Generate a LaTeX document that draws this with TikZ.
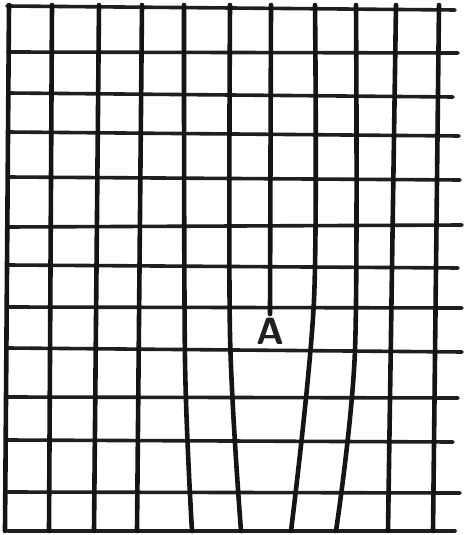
\documentclass[tikz,border=0pt]{standalone}
\begin{document}
\begin{tikzpicture}[x=1pt,y=-1pt,
  hline/.style={draw=black!88,line width=3.6pt,line cap=round,line join=round},
  vline/.style={draw=black!92,line width=4.6pt,line cap=round,line join=round},
  lbl/.style={font=\fontsize{38}{38}\selectfont\sffamily\bfseries,text=black!88,inner sep=0pt}]
\useasboundingbox[fill=white] (0,0) rectangle (466,535);
% horizontal lines
\draw[hline] (7,6) -- (455,10);
\draw[hline] (8,52) -- (458,53);
\draw[hline] (8,93) -- (453,97);
\draw[hline] (8,132) -- (459,136);
\draw[hline] (8,177) -- (460,180);
\draw[hline] (8,227) -- (462,225);
\draw[hline] (8,265) -- (458,268);
\draw[hline] (8,307) -- (462,308);
\draw[hline] (8,348) -- (462,352);
\draw[hline] (8,397) -- (458,398);
\draw[hline] (8,440) -- (453,442);
\draw[hline] (8,492) -- (460,493);
\draw[hline] (8,531) -- (455,531);
% vertical lines
\draw[vline] (9,5) -- (5,531);
\draw[vline] (52,5) -- (49,531);
\draw[vline] (99,5) -- (94,531);
\draw[vline] (142,5) -- (137,531);
\draw[vline] plot[smooth,tension=0.5] coordinates {(184,5) (185,360) (192,531)};
\draw[vline] plot[smooth,tension=0.5] coordinates {(230,5) (230,335) (241,531)};
\draw[vline] (271,5) -- (270,314);
\draw[vline] plot[smooth,tension=0.5] coordinates {(315,5) (314,300) (291,531)};
\draw[vline] plot[smooth,tension=0.5] coordinates {(356,5) (355,350) (336,531)};
\draw[vline] (396,5) -- (388,531);
\draw[vline] (439,5) -- (433,531);
\node[lbl] (A) at (270,331) {A};
\end{tikzpicture}
\end{document}
